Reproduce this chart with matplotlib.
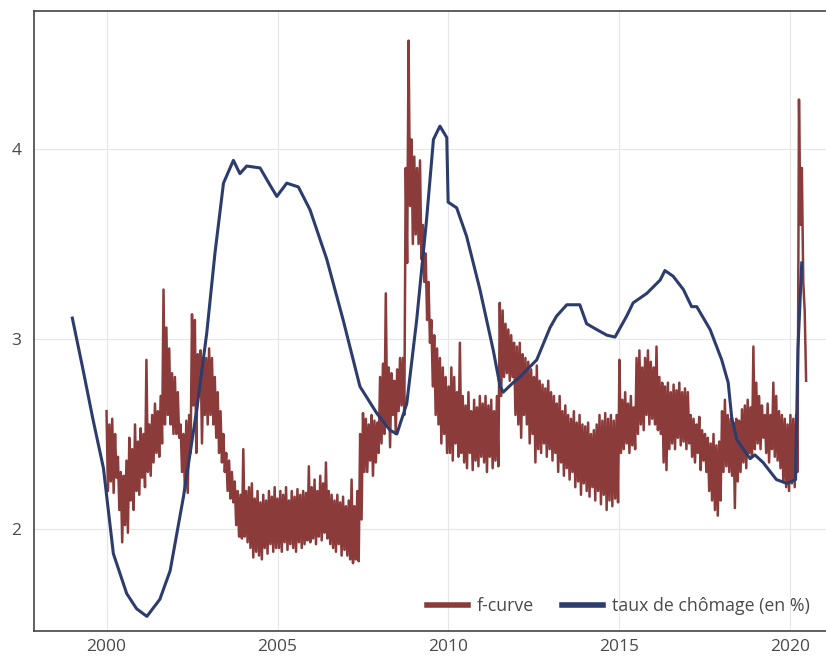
import matplotlib.pyplot as plt
import numpy as np

# taux de chômage (en %)
u_years = [1999.0, 1999.3, 1999.6, 1999.91, 2000.2, 2000.59, 2000.88, 2001.18, 2001.56,
           2001.86, 2002.25, 2002.64, 2002.93, 2003.17, 2003.42, 2003.71, 2003.9, 2004.1,
           2004.49, 2004.78, 2004.98, 2005.27, 2005.61, 2005.95, 2006.44, 2006.92, 2007.41,
           2007.9, 2008.29, 2008.49, 2008.78, 2009.07, 2009.36, 2009.56, 2009.75, 2009.95,
           2009.99, 2010.24, 2010.53, 2010.92, 2011.31, 2011.51, 2011.6, 2011.89, 2012.09,
           2012.58, 2012.97, 2013.16, 2013.46, 2013.84, 2014.04, 2014.33, 2014.63, 2014.87,
           2015.21, 2015.4, 2015.8, 2016.19, 2016.33, 2016.57, 2016.87, 2017.11, 2017.26,
           2017.65, 2017.99, 2018.18, 2018.28, 2018.43, 2018.82, 2018.96, 2019.2, 2019.59,
           2019.89, 2020.15, 2020.22, 2020.33]
u_values = [3.11, 2.85, 2.58, 2.32, 1.87, 1.66, 1.58, 1.54, 1.63,
            1.78, 2.17, 2.63, 3.03, 3.45, 3.82, 3.94, 3.87, 3.91,
            3.90, 3.81, 3.75, 3.82, 3.80, 3.68, 3.42, 3.10, 2.75,
            2.61, 2.52, 2.50, 2.66, 3.10, 3.63, 4.05, 4.12, 4.06,
            3.72, 3.69, 3.54, 3.26, 2.94, 2.75, 2.72, 2.77, 2.80,
            2.89, 3.06, 3.12, 3.18, 3.18, 3.08, 3.05, 3.02, 3.01,
            3.12, 3.19, 3.24, 3.31, 3.36, 3.33, 3.26, 3.17, 3.17,
            3.05, 2.89, 2.77, 2.59, 2.47, 2.37, 2.39, 2.35, 2.26,
            2.24, 2.26, 2.95, 3.40]

# f-curve : haut / bas de chaque mois, de janvier 2000 à juin 2020
f_high = [
    2.62, 2.55, 2.58, 2.50, 2.38, 2.30, 2.28, 2.36, 2.48, 2.42, 2.55, 2.46,  # 2000
    2.53, 2.50, 2.89, 2.55, 2.60, 2.66, 2.62, 2.70, 3.26, 3.06, 2.95, 2.82,  # 2001
    2.80, 2.72, 2.55, 2.50, 2.57, 2.60, 3.13, 3.10, 2.92, 2.94, 2.89, 2.90,  # 2002
    2.95, 2.90, 2.80, 2.72, 2.62, 2.50, 2.40, 2.36, 2.30, 2.25, 2.20, 2.18,  # 2003
    2.42, 2.20, 2.22, 2.24, 2.16, 2.20, 2.14, 2.18, 2.15, 2.20, 2.17, 2.22,  # 2004
    2.16, 2.20, 2.18, 2.22, 2.15, 2.20, 2.17, 2.21, 2.18, 2.20, 2.19, 2.33,  # 2005
    2.22, 2.26, 2.20, 2.28, 2.24, 2.35, 2.20, 2.18, 2.15, 2.18, 2.14, 2.17,  # 2006
    2.12, 2.15, 2.26, 2.12, 2.20, 2.50, 2.61, 2.58, 2.55, 2.60, 2.57, 2.56,  # 2007
    2.80, 2.87, 3.24, 2.85, 2.82, 2.78, 2.84, 2.90, 2.90, 3.90, 4.57, 4.05,  # 2008
    3.96, 3.90, 3.94, 3.60, 3.45, 3.30, 3.10, 3.02, 2.95, 2.90, 2.85, 2.80,  # 2009
    2.75, 2.85, 2.80, 2.72, 2.98, 2.70, 2.65, 2.72, 2.62, 2.68, 2.64, 2.70,  # 2010
    2.66, 2.70, 2.65, 2.68, 2.62, 2.70, 3.19, 3.15, 3.08, 3.05, 3.02, 2.98,  # 2011
    2.96, 2.98, 2.92, 2.90, 2.88, 2.84, 2.80, 2.86, 2.78, 2.76, 2.74, 2.78,  # 2012
    2.72, 2.70, 2.66, 2.70, 2.62, 2.65, 2.60, 2.58, 2.62, 2.56, 2.60, 2.55,  # 2013
    2.54, 2.56, 2.50, 2.52, 2.55, 2.60, 2.57, 2.61, 2.58, 2.60, 2.57, 2.60,  # 2014
    2.89, 2.68, 2.72, 2.66, 2.70, 2.64, 2.90, 2.94, 2.85, 2.90, 2.94, 2.88,  # 2015
    2.85, 2.96, 2.80, 2.77, 2.75, 2.77, 2.72, 2.76, 2.73, 2.77, 2.72, 2.74,  # 2016
    2.72, 2.60, 2.58, 2.55, 2.59, 2.52, 2.50, 2.48, 2.45, 2.50, 2.44, 2.46,  # 2017
    2.62, 2.68, 2.60, 2.58, 2.56, 2.58, 2.57, 2.63, 2.65, 2.68, 2.64, 2.96,  # 2018
    2.77, 2.70, 2.65, 2.60, 2.66, 2.60, 2.77, 2.70, 2.62, 2.60, 2.58, 2.55,  # 2019
    2.60, 2.58, 2.60, 4.26, 3.90, 3.15,                                      # 2020
]
f_low = [
    2.20, 2.25, 2.19, 2.27, 2.10, 1.93, 2.02, 1.98, 2.15, 2.10, 2.20, 2.18,  # 2000
    2.27, 2.22, 2.30, 2.28, 2.35, 2.40, 2.38, 2.45, 2.55, 2.60, 2.55, 2.50,  # 2001
    2.50, 2.48, 2.30, 2.20, 2.19, 2.40, 2.65, 2.40, 2.70, 2.45, 2.60, 2.55,  # 2002
    2.60, 2.55, 2.48, 2.40, 2.35, 2.30, 2.20, 2.16, 2.14, 2.02, 1.96, 1.95,  # 2003
    1.96, 1.93, 1.90, 1.85, 1.88, 1.86, 1.84, 1.90, 1.87, 1.92, 1.88, 1.90,  # 2004
    1.90, 1.88, 1.93, 1.89, 1.92, 1.90, 1.88, 1.93, 1.90, 1.92, 1.94, 1.93,  # 2005
    1.95, 1.92, 1.96, 1.94, 1.98, 1.95, 1.92, 1.90, 1.88, 1.92, 1.86, 1.89,  # 2006
    1.86, 1.84, 1.82, 1.84, 1.83, 2.05, 2.30, 2.30, 2.36, 2.28, 2.35, 2.40,  # 2007
    2.45, 2.50, 2.55, 2.43, 2.60, 2.50, 2.62, 2.65, 2.60, 3.40, 3.70, 3.50,  # 2008
    3.55, 3.50, 3.42, 3.30, 3.10, 2.98, 2.75, 2.60, 2.55, 2.45, 2.50, 2.40,  # 2009
    2.40, 2.36, 2.45, 2.38, 2.40, 2.35, 2.32, 2.40, 2.31, 2.36, 2.33, 2.38,  # 2010
    2.35, 2.30, 2.38, 2.32, 2.36, 2.33, 2.70, 2.80, 2.82, 2.78, 2.80, 2.60,  # 2011
    2.55, 2.48, 2.60, 2.55, 2.45, 2.50, 2.35, 2.42, 2.40, 2.45, 2.38, 2.42,  # 2012
    2.36, 2.40, 2.30, 2.35, 2.28, 2.32, 2.26, 2.30, 2.22, 2.25, 2.18, 2.24,  # 2013
    2.20, 2.17, 2.22, 2.15, 2.20, 2.13, 2.18, 2.10, 2.15, 2.12, 2.16, 2.14,  # 2014
    2.40, 2.42, 2.45, 2.40, 2.44, 2.42, 2.50, 2.55, 2.52, 2.60, 2.55, 2.58,  # 2015
    2.55, 2.52, 2.50, 2.35, 2.31, 2.42, 2.45, 2.42, 2.48, 2.44, 2.46, 2.42,  # 2016
    2.45, 2.38, 2.35, 2.40, 2.31, 2.36, 2.30, 2.20, 2.15, 2.10, 2.07, 2.15,  # 2017
    2.30, 2.33, 2.30, 2.28, 2.11, 2.25, 2.30, 2.35, 2.32, 2.40, 2.38, 2.42,  # 2018
    2.45, 2.42, 2.48, 2.40, 2.35, 2.42, 2.38, 2.36, 2.32, 2.25, 2.22, 2.20,  # 2019
    2.24, 2.22, 2.30, 3.60, 3.30, 2.78,                                      # 2020
]

legend_labels = ["f-curve", "taux de chômage (en %)"]
x_ticks = [2000, 2005, 2010, 2015, 2020]
y_ticks = [2, 3, 4]

red = "#8c3b3b"
blue = "#2c3c6c"

# points hauts et bas entrelacés, deux par mois
months = np.arange(len(f_high))
f_t = np.empty(2 * len(f_high))
f_v = np.empty(2 * len(f_high))
f_t[0::2] = 2000 + months / 12
f_t[1::2] = 2000 + (months + 0.5) / 12
f_v[0::2] = f_high
f_v[1::2] = f_low

plt.rcParams['font.family'] = ['Open Sans', 'DejaVu Sans']

fig = plt.figure(figsize=(8.26, 6.62), dpi=100)
ax = fig.add_axes([0.0412, 0.0468, 0.9588, 0.9366])

ax.plot(f_t, f_v, color=red, lw=1.8, label=legend_labels[0], zorder=3)
ax.plot(u_years, u_values, color=blue, lw=2.2, label=legend_labels[1], zorder=4,
        solid_joinstyle='round')

ax.set_xlim(1997.88, 2021.04)
ax.set_ylim(1.463, 4.726)
ax.set_xticks(x_ticks)
ax.set_yticks(y_ticks)
ax.tick_params(length=0, labelsize=12.5, colors="#4a4a4a")
ax.tick_params(axis='y', pad=9)
ax.tick_params(axis='x', pad=6)
ax.grid(True, color="#e6e6e6", lw=0.8)
ax.set_axisbelow(True)

for side in ['left', 'top', 'bottom']:
    ax.spines[side].set_color("#444444")
    ax.spines[side].set_linewidth(1.2)
ax.spines['right'].set_visible(False)

leg = ax.legend(loc='lower right', ncol=2, frameon=False, fontsize=12.8,
                handlelength=2.3, handletextpad=0.5, columnspacing=1.6,
                bbox_to_anchor=(1.0, 0.0))
for line in leg.get_lines():
    line.set_linewidth(4)
for txt in leg.get_texts():
    txt.set_color("#4a4a4a")

plt.savefig('out.png', dpi=100)
